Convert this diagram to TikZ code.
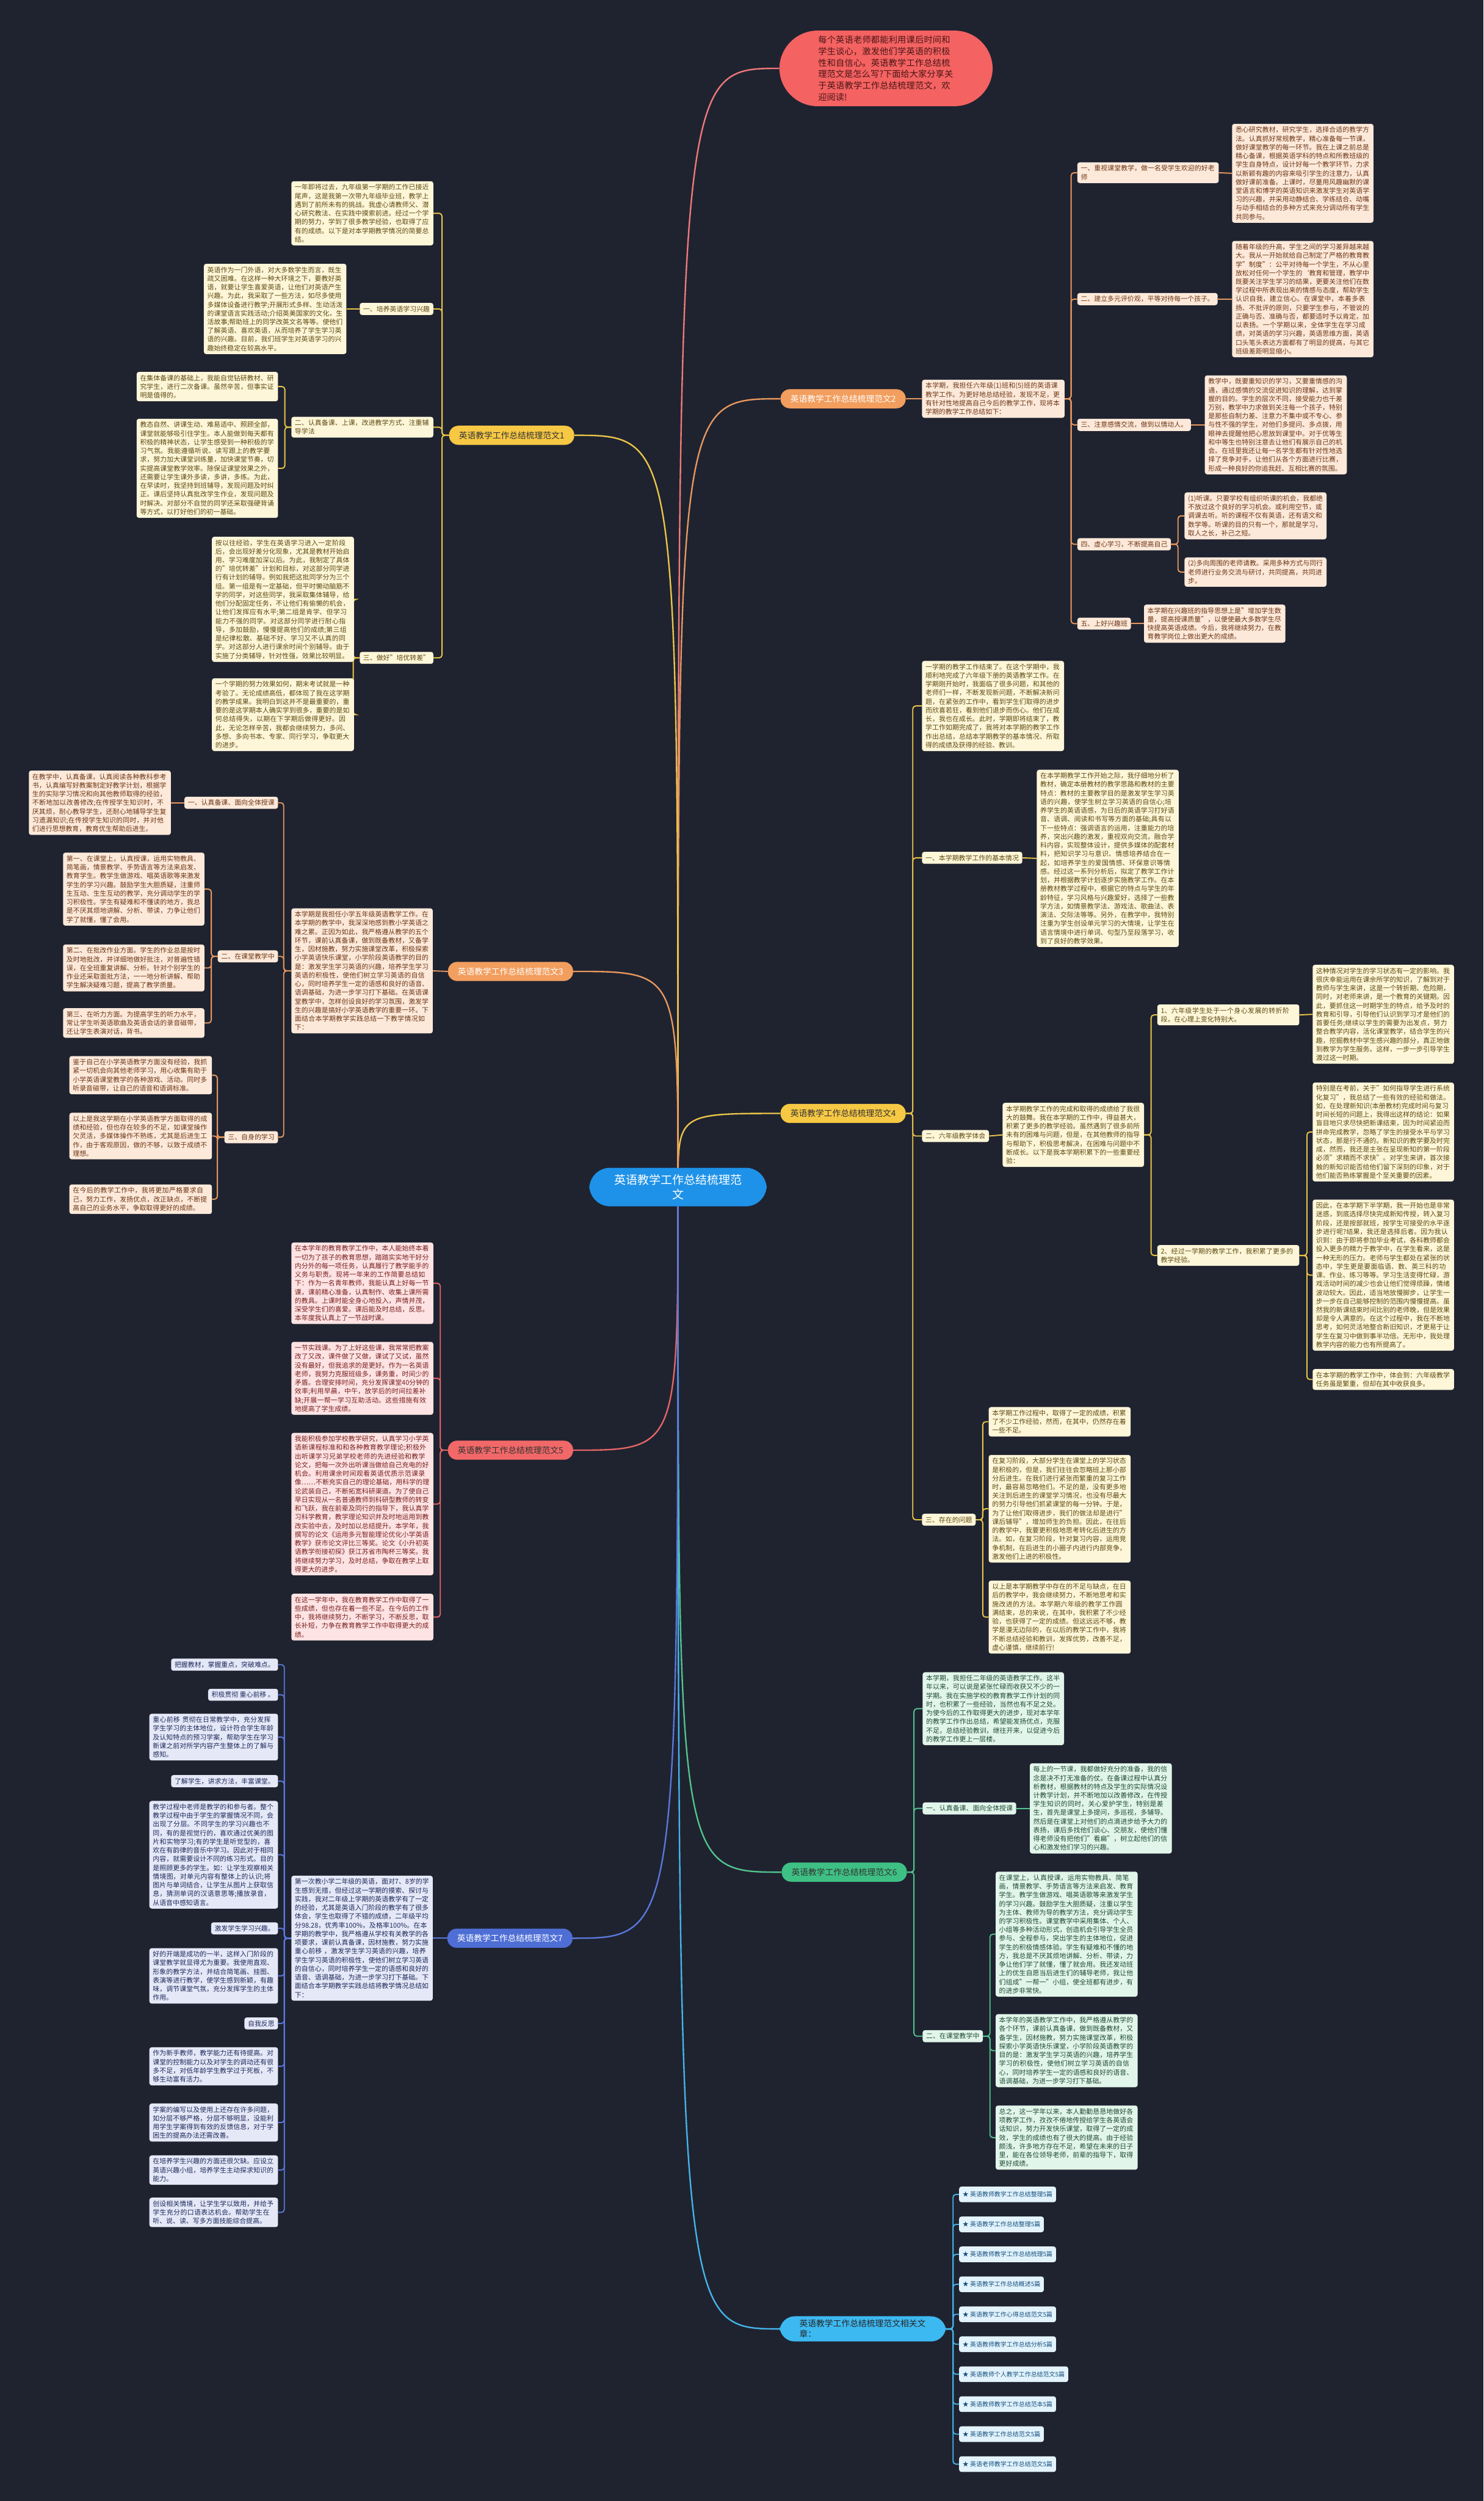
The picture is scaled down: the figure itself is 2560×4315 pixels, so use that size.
\documentclass[tikz,border=0pt]{standalone}
\usepackage{fontspec}
\setmainfont{Noto Sans CJK SC}
\usetikzlibrary{backgrounds}
\XeTeXlinebreaklocale "zh"
\XeTeXlinebreakskip=0pt plus 1pt

\definecolor{bgc}{HTML}{1F2330}
\definecolor{rootc}{HTML}{1E92E8}
\definecolor{notec}{HTML}{F46262}
\definecolor{notetx}{HTML}{4A1515}
\definecolor{noteln}{HTML}{F07A7A}
\definecolor{ypill}{HTML}{F7C844}
\definecolor{yfill}{HTML}{FEF6D8}
\definecolor{ytext}{HTML}{5C4A12}
\definecolor{yline}{HTML}{EBC548}
\definecolor{opill}{HTML}{F29E5E}
\definecolor{ofill}{HTML}{FDE9DA}
\definecolor{otext}{HTML}{6B3615}
\definecolor{oline}{HTML}{E8985E}
\definecolor{rpill}{HTML}{F26868}
\definecolor{rfill}{HTML}{FDE3E3}
\definecolor{rtext}{HTML}{7A1E1E}
\definecolor{rline}{HTML}{E56565}
\definecolor{gpill}{HTML}{3EC084}
\definecolor{gfill}{HTML}{E2F5EA}
\definecolor{gtext}{HTML}{1E4A34}
\definecolor{gline}{HTML}{52C48D}
\definecolor{bpill}{HTML}{4E6ED6}
\definecolor{bfill}{HTML}{E5E8F7}
\definecolor{btext}{HTML}{1D2A5A}
\definecolor{bline}{HTML}{5A78DC}
\definecolor{lpill}{HTML}{3DB9F2}
\definecolor{lfill}{HTML}{E3F3FC}
\definecolor{ltext}{HTML}{16507E}
\definecolor{lline}{HTML}{45B4EA}

\newcommand\boxfont{\fontsize{11.5}{15}\selectfont}
\newcommand\pillfont{\fontsize{14.5}{18}\selectfont}
\newcommand\notefont{\fontsize{15}{19.7}\selectfont}
\newcommand\rootfont{\fontsize{20}{26}\selectfont}
\newcommand\itemfont{\fontsize{10.5}{13}\selectfont}

\tikzset{
  box/.style={rounded corners=4pt, inner xsep=6pt, inner ysep=5pt, align=left, font=\boxfont},
  ybox/.style={box, fill=yfill, text=ytext},
  obox/.style={box, fill=ofill, text=otext},
  rbox/.style={box, fill=rfill, text=rtext},
  gbox/.style={box, fill=gfill, text=gtext},
  bbox/.style={box, fill=bfill, text=btext},
  lbox/.style={box, fill=lfill, text=ltext, font=\itemfont, minimum height=27pt, inner ysep=3pt},
  pill/.style={rounded corners=16pt, minimum height=33pt, inner xsep=17pt, inner ysep=4pt, font=\pillfont},
  trunk/.style={line width=2.5pt},
  link/.style={line width=2pt, rounded corners=5pt},
}

\begin{document}
\begin{tikzpicture}[x=1pt,y=-1pt]
\useasboundingbox (0,0) rectangle (2560,4315);

\node[fill=rootc, text=white, rounded corners=36pt, font=\rootfont, align=center, text width=222pt, inner xsep=42pt, inner ysep=11pt] (root) at (1170,2048) {英语教学工作总结梳理范\\文};

\node[fill=notec, text=notetx, rounded corners=66pt, font=\notefont, align=left, text width=234pt, inner xsep=67pt, inner ysep=9pt] (note) at (1529,118) {每个英语老师都能利用课后时间和学生谈心，激发他们学英语的积极性和自信心。英语教学工作总结梳理范文是怎么写?下面给大家分享关于英语教学工作总结梳理范文，欢迎阅读!};

% 范文1
\node[pill, fill=ypill, text=black!80] (p1) at (883,751) {英语教学工作总结梳理范文1};
\node[ybox, text width=233pt, anchor=east] (p1a) at (748,368) {一年即将过去，九年级第一学期的工作已接近尾声，这是我第一次带九年级毕业班，教学上遇到了前所未有的挑战。我虚心请教师父、潜心研究教法、在实践中摸索前进。经过一个学期的努力，学到了很多教学经验，也取得了应有的成绩。以下是对本学期教学情况的简要总结。};
\node[ybox, anchor=east] (p1b) at (748,533) {一、培养英语学习兴趣};
\node[ybox, text width=234pt, anchor=east] (p1ba) at (598,533) {英语作为一门外语，对大多数学生而言，既生疏又困难。在这样一种大环境之下，要教好英语，就要让学生喜爱英语，让他们对英语产生兴趣。为此，我采取了一些方法，如尽多使用多媒体设备进行教学;开展形式多样、生动活泼的课堂语言实践活动;介绍英美国家的文化，生活故事;帮助班上的同学改英文名等等。使他们了解英语、喜欢英语，从而培养了学生学习英语的兴趣。目前，我们班学生对英语学习的兴趣始终稳定在较高水平。};
\node[ybox, text width=233pt, anchor=east] (p1c) at (748,737) {二、认真备课、上课，改进教学方式、注重辅导学法};
\node[ybox, text width=232pt, anchor=east] (p1ca) at (480,667) {在集体备课的基础上，我能自觉钻研教材、研究学生，进行二次备课。虽然辛苦，但事实证明是值得的。};
\node[ybox, text width=232pt, anchor=east] (p1cb) at (480,808) {教态自然、讲课生动、难易适中、照顾全部，课堂就能够吸引住学生。本人能做到每天都有积极的精神状态，让学生感受到一种积极的学习气氛。我能遵循听说、读写跟上的教学要求，努力加大课堂训练量，加快课堂节奏，切实提高课堂教学效率。除保证课堂效果之外，还需要让学生课外多读，多讲，多练。为此，在早读时，我坚持到班辅导，发现问题及时纠正。课后坚持认真批改学生作业，发现问题及时解决。对部分不自觉的同学还采取强硬背诵等方式，以打好他们的初一基础。};
\node[ybox, anchor=east] (p1d) at (748,1135) {三、做好"培优转差"};
\node[ybox, text width=233pt, anchor=east] (p1da) at (611,1034) {按以往经验，学生在英语学习进入一定阶段后，会出现好差分化现象，尤其是教材开始启用、学习难度加深以后。为此，我制定了具体的"培优转差"计划和目标，对这部分同学进行有计划的辅导。例如我把这批同学分为三个组。第一组是有一定基础，但平时懒动脑筋不学的同学，对这些同学，我采取集体辅导，给他们分配固定任务，不让他们有偷懒的机会，让他们发挥应有水平;第二组是肯学、但学习能力不强的同学。对这部分同学进行耐心指导，多加鼓励，慢慢提高他们的成绩;第三组是纪律松散、基础不好、学习又不认真的同学。对这部分人进行课余时间个别辅导。由于实施了分类辅导，针对性强，效果比较明显。};
\node[ybox, text width=233pt, anchor=east] (p1db) at (611,1233) {一个学期的努力效果如何，期末考试就是一种考验了。无论成绩高低，都体现了我在这学期的教学成果。我明白到这并不是最重要的，重要的是这学期本人确实学到很多，重要的是如何总结得失，以期在下学期后做得更好。因此，无论怎样辛苦，我都会继续努力，多问、多想、多向书本、专家、同行学习，争取更大的进步。};

% 范文2
\node[pill, fill=opill, text=white] (p2) at (1455,688) {英语教学工作总结梳理范文2};
\node[obox, text width=234pt, anchor=west] (p2i) at (1591,688) {本学期，我担任六年级(1)班和(5)班的英语课教学工作。为更好地总结经验，发现不足，更有针对性地提高自己今后的教学工作，现将本学期的教学工作总结如下：};
\node[obox, text width=232pt, anchor=west] (p2a) at (1859,298) {一、重视课堂教学，做一名受学生欢迎的好老师};
\node[obox, text width=232pt, anchor=west] (p2aa) at (2126,299) {悉心研究教材，研究学生，选择合适的教学方法。认真抓好常规教学，精心准备每一节课，做好课堂教学的每一环节。我在上课之前总是精心备课，根据英语学科的特点和所教班级的学生自身特点，设计好每一个教学环节，力求以新颖有趣的内容来吸引学生的注意力，认真做好课前准备。上课时，尽量用风趣幽默的课堂语言和博学的英语知识来激发学生对英语学习的兴趣，并采用动静结合、学练结合、动嘴与动手相结合的多种方式来充分调动所有学生共同参与。};
\node[obox, anchor=west] (p2b) at (1859,516) {二、建立多元评价观，平等对待每一个孩子。};
\node[obox, text width=232pt, anchor=west] (p2ba) at (2126,516) {随着年级的升高，学生之间的学习差异越来越大。我从一开始就给自己制定了严格的教育教学"制度"：公平对待每一个学生，不从心里放松对任何一个学生的{\char"60}教育和管理，教学中既要关注学生学习的结果，更要关注他们在数学过程中所表现出来的情感与态度，帮助学生认识自我，建立信心。在课堂中，本着多表扬、不批评的原则，只要学生参与，不管说的正确与否、准确与否，都要适时予以肯定，加以表扬。一个学期以来，全体学生在学习成绩，对英语的学习兴趣，英语思维方面，英语口头笔头表达方面都有了明显的提高，与其它班级差距明显缩小。};
\node[obox, anchor=west] (p2c) at (1859,733) {三、注意感情交流，做到以情动人。};
\node[obox, text width=233pt, anchor=west] (p2ca) at (2079,733) {教学中，既要重知识的学习，又要重情感的沟通，通过感情的交流促进知识的理解，达到掌握的目的。学生的层次不同，接受能力也千差万别，教学中力求做到关注每一个孩子，特别是那些自制力差、注意力不集中或不专心、参与性不强的学生，对他们多提问、多点拨，用眼神去提醒他把心思放到课堂中。对于优等生和中等生也特别注意去让他们有展示自己的机会。在班里我还让每一名学生都有针对性地选择了竞争对手，让他们从各个方面进行比赛，形成一种良好的你追我赶、互相比赛的氛围。};
\node[obox, anchor=west] (p2d) at (1859,939) {四、虚心学习，不断提高自己};
\node[obox, text width=233pt, anchor=west] (p2da) at (2044,890) {(1)听课。只要学校有组织听课的机会，我都绝不放过这个良好的学习机会。或利用空节，或调课去听。听的课程不仅有英语，还有语文和数学等。听课的目的只有一个，那就是学习，取人之长，补己之短。};
\node[obox, text width=233pt, anchor=west] (p2db) at (2044,987) {(2)多向周围的老师请教。采用多种方式与同行老师进行业务交流与研讨，共同提高，共同进步。};
\node[obox, anchor=west] (p2e) at (1859,1076) {五、上好兴趣班};
\node[obox, text width=232pt, anchor=west] (p2ea) at (1974,1076) {本学期在兴趣班的指导思想上是"增加学生数量，提高授课质量"，以便使最大多数学生尽快提高英语成绩。今后，我将继续努力，在教育教学岗位上做出更大的成绩。};

% 范文3
\node[pill, fill=opill, text=white] (p3) at (881,1676) {英语教学工作总结梳理范文3};
\node[obox, text width=232pt, anchor=east] (p3i) at (747,1675) {本学期是我担任小学五年级英语教学工作。在本学期的教学中，我深深地感到教小学英语之难之累。正因为如此，我严格遵从教学的五个环节，课前认真备课，做到既备教材，又备学生，因材施教，努力实施课堂改革，积极探索小学英语快乐课堂，小学阶段英语教学的目的是：激发学生学习英语的兴趣，培养学生学习英语的积极性，使他们树立学习英语的自信心，同时培养学生一定的语感和良好的语音、语调基础，为进一步学习打下基础。在英语课堂教学中，怎样创设良好的学习氛围，激发学生的兴趣是搞好小学英语教学的重要一环。下面结合本学期教学实践总结一下教学情况如下：};
\node[obox, anchor=east] (p3a) at (480,1385) {一、认真备课、面向全体授课};
\node[obox, text width=233pt, anchor=east] (p3aa) at (295,1385) {在教学中，认真备课，认真阅读各种教科参考书，认真编写好教案制定好教学计划，根据学生的实际学习情况和向其他教师取得的经验，不断地加以改善修改;在传授学生知识时，不厌其烦，耐心教导学生，还耐心地辅导学生复习遗漏知识;在传授学生知识的同时，并对他们进行思想教育，教育优生帮助后进生。};
\node[obox, anchor=east] (p3b) at (480,1650) {二、在课堂教学中};
\node[obox, text width=232pt, anchor=east] (p3ba) at (353,1534) {第一、在课堂上，认真授课，运用实物教具、简笔画，情景教学、手势语言等方法来启发、教育学生。教学生做游戏、唱英语歌等来激发学生的学习兴趣。鼓励学生大胆质疑，注重师生互动、生生互动的教学，充分调动学生的学习积极性。学生有疑难和不懂读的地方，我总是不厌其烦地讲解、分析、带读，力争让他们学了就懂，懂了会用。};
\node[obox, text width=232pt, anchor=east] (p3bb) at (353,1670) {第二、在批改作业方面。学生的作业总是按时及时地批改，并详细地做好批注，对普遍性错误，在全班重复讲解、分析。针对个别学生的作业还采取面批方法，一一地分析讲解、帮助学生解决疑难习题，提高了教学质量。};
\node[obox, text width=232pt, anchor=east] (p3bc) at (353,1765) {第三、在听力方面。为提高学生的听力水平，常让学生听英语歌曲及英语会话的录音磁带，还让学生表演对话，背书。};
\node[obox, anchor=east] (p3c) at (480,1962) {三、自身的学习};
\node[obox, text width=234pt, anchor=east] (p3ca) at (366,1855) {鉴于自己在小学英语教学方面没有经验，我抓紧一切机会向其他老师学习，用心收集有助于小学英语课堂教学的各种游戏、活动。同时多听录音磁带，让自己的语音和语调标准。};
\node[obox, text width=234pt, anchor=east] (p3cb) at (366,1960) {以上是我这学期在小学英语教学方面取得的成绩和经验，但也存在较多的不足，如课堂操作欠灵活，多媒体操作不熟练，尤其是后进生工作，由于客观原因，做的不够，以致于成绩不理想。};
\node[obox, text width=234pt, anchor=east] (p3cc) at (366,2069) {在今后的教学工作中，我将更加严格要求自己，努力工作，发扬优点，改正缺点，不断提高自己的业务水平，争取取得更好的成绩。};

% 范文4
\node[pill, fill=ypill, text=black!80] (p4) at (1455,1921) {英语教学工作总结梳理范文4};
\node[ybox, text width=233pt, anchor=west] (p4i) at (1591,1218) {一学期的教学工作结束了。在这个学期中，我顺利地完成了六年级下册的英语教学工作。在学期刚开始时，我面临了很多问题，和其他的老师们一样，不断发现新问题，不断解决新问题，在紧张的工作中，看到学生们取得的进步而欣喜若狂，看到他们退步而伤心。他们在成长，我也在成长。此时，学期即将结束了，教学工作如期完成了，我将对本学期的教学工作作出总结，总结本学期教学的基本情况、所取得的成绩及获得的经验、教训。};
\node[ybox, anchor=west] (p4a) at (1591,1480) {一、本学期教学工作的基本情况};
\node[ybox, text width=233pt, anchor=west] (p4aa) at (1789,1481) {在本学期教学工作开始之际，我仔细地分析了教材，确定本册教材的教学思路和教材的主要特点：教材的主要教学目的是激发学生学习英语的兴趣，使学生树立学习英语的自信心;培养学生的英语语感，为日后的英语学习打好语音、语调、阅读和书写等方面的基础;具有以下一些特点：强调语言的运用，注重能力的培养，突出兴趣的激发，重视双向交流，融合学科内容，实现整体设计，提供多媒体的配套材料，把知识学习与意识、情感培养结合在一起，如培养学生的爱国情感、环保意识等情感。经过这一系列分析后，拟定了教学工作计划，并根据教学计划逐步实施教学工作。在本册教材教学过程中，根据它的特点与学生的年龄特征，学习风格与兴趣爱好，选择了一些教学方法，如情景教学法、游戏法、歌曲法、表演法、交际法等等。另外，在教学中，我特别注重为学生创设单元学习的大情境，让学生在语言情境中进行单词、句型乃至段落学习，收到了良好的教学效果。};
\node[ybox, anchor=west] (p4b) at (1591,1960) {二、六年级教学体会};
\node[ybox, text width=232pt, anchor=west] (p4bi) at (1730,1958) {本学期教学工作的完成和取得的成绩给了我很大的鼓舞。我在本学期的工作中，得益甚大，积累了更多的教学经验。虽然遇到了很多前所未有的困难与问题，但是，在其他教师的指导与帮助下，积极思考解决，在困难与问题中不断成长。以下是我本学期积累下的一些重要经验：};
\node[ybox, text width=233pt, anchor=west] (p4b1) at (1997,1751) {1、六年级学生处于一个身心发展的转折阶段，在心理上变化特别大。};
\node[ybox, text width=232pt, anchor=west] (p4b1a) at (2265,1750) {这种情况对学生的学习状态有一定的影响。我很庆幸能运用在课余所学的知识，了解到对于教师与学生来讲，这是一个转折期、危险期，同时，对老师来讲，是一个教育的关键期。因此，要抓住这一时期学生的特点，给予及时的教育和引导，引导他们认识到学习才是他们的首要任务;继续以学生的需要为出发点，努力整合教学内容，活化课堂教学，结合学生的兴趣，挖掘教材中学生感兴趣的部分，真正地做到教学为学生服务。这样，一步一步引导学生渡过这一时期。};
\node[ybox, text width=233pt, anchor=west] (p4b2) at (1997,2166) {2、经过一学期的教学工作，我积累了更多的教学经验。};
\node[ybox, text width=232pt, anchor=west] (p4b2a) at (2265,1953) {特别是在考前，关于"如何指导学生进行系统化复习"，我总结了一些有效的经验和做法。如，在处理新知识(本册教材)完成时间与复习时间长短的问题上，我得出这样的结论：如果盲目地只求尽快把新课结束，因为时间紧迫而拼命完成教学，忽略了学生的接受水平与学习状态，那是行不通的。新知识的教学要及时完成，然而，我还是主张在呈现新知的第一阶段必须"求精而不求快"。对学生来讲，首次接触的新知识能否给他们留下深刻的印象，对于他们能否熟练掌握是个至关重要的因素。};
\node[ybox, text width=232pt, anchor=west] (p4b2b) at (2265,2200) {因此，在本学期下半学期，我一开始也是非常迷惑，到底选择尽快完成新知传授，转入复习阶段，还是按部就班，按学生可接受的水平逐步进行呢?结果，我还是选择后者。因为我认识到：由于即将参加毕业考试，各科教师都会投入更多的精力于教学中，在学生看来，这是一种无形的压力。老师与学生都处在紧张的状态中，学生更是要面临语、数、英三科的功课、作业、练习等等。学习生活变得忙碌，游戏活动时间的减少也会让他们觉得烦躁，情绪波动较大。因此，适当地放慢脚步，让学生一步一步在自己能够控制的范围内慢慢提高。虽然我的新课结束时间比别的老师晚，但是效果却是令人满意的。在这个过程中，我在不断地思考，如何灵活地整合新旧知识，才更易于让学生在复习中做到事半功倍。无形中，我处理教学内容的能力也有所提高了。};
\node[ybox, text width=232pt, anchor=west] (p4b2c) at (2265,2380) {在本学期的教学工作中，体会到：六年级教学任务虽是繁重，但却在其中收获良多。};
\node[ybox, anchor=west] (p4c) at (1591,2622) {三、存在的问题};
\node[ybox, text width=233pt, anchor=west] (p4ca) at (1706,2453) {本学期工作过程中，取得了一定的成绩，积累了不少工作经验，然而，在其中，仍然存在着一些不足。};
\node[ybox, text width=233pt, anchor=west] (p4cb) at (1706,2603) {在复习阶段，大部分学生在课堂上的学习状态是积极的，但是，我们往往会忽略班上那小部分后进生。在我们进行紧张而繁重的复习工作时，最容易忽略他们。不足的是，没有更多地关注到后进生的课堂学习情况，也没有尽最大的努力引导他们抓紧课堂的每一分钟。于是，为了让他们取得进步，我们的做法却是进行"课后辅导"，增加师生的负担。因此，在往后的教学中，我要更积极地思考转化后进生的方法。如，在复习阶段，针对复习内容，运用竞争机制，在后进生的小圈子内进行内部竞争，激发他们上进的积极性。};
\node[ybox, text width=233pt, anchor=west] (p4cc) at (1706,2790) {以上是本学期教学中存在的不足与缺点，在日后的教学中，我会继续努力，不断地思考和实施改进的方法。本学期六年级的教学工作圆满结束，总的来说，在其中，我积累了不少经验，也获得了一定的成绩。但这远远不够，教学是漫无边际的，在以后的教学工作中，我将不断总结经验和教训，发挥优势，改善不足，虚心谨慎，继续前行!};

% 范文5
\node[pill, fill=rpill, text=black!80] (p5) at (881,2502) {英语教学工作总结梳理范文5};
\node[rbox, text width=233pt, anchor=east] (p5a) at (748,2214) {在本学年的教育教学工作中，本人能始终本着一切为了孩子的教育思想，踏踏实实地干好分内分外的每一项任务，认真履行了教学能手的义务与职责。现将一年来的工作简要总结如下：作为一名青年教师，我能认真上好每一节课，课前精心准备，认真制作、收集上课所需的教具。上课时能全身心地投入，声情并茂，深受学生们的喜爱。课后能及时总结，反思。本年度我认真上了一节战时课。};
\node[rbox, text width=233pt, anchor=east] (p5b) at (748,2378) {一节实践课。为了上好这些课，我常常把教案改了又改，课件做了又做，课试了又试，虽然没有最好，但我追求的是更好。作为一名英语老师，我努力克服班级多，课务重，时间少的矛盾。合理安排时间，充分发挥课堂40分钟的效率;利用早晨，中午，放学后的时间拉差补缺;开展一帮一学习互助活动。这些措施有效地提高了学生成绩。};
\node[rbox, text width=233pt, anchor=east] (p5c) at (748,2595) {我能积极参加学校教学研究，认真学习小学英语新课程标准和和各种教育教学理论;积极外出听课学习兄弟学校老师的先进经验和教学论文，把每一次外出听课当做给自己充电的好机会。利用课余时间观看英语优质示范课录像……不断充实自己的理论基础，用科学的理论武装自己，不断拓宽科研渠道。为了使自己早日实现从一名普通教师到科研型教师的转变和飞跃，我在前辈及同行的指导下，我认真学习科学教育，教学理论知识并及时地运用到教改实验中去，及时加以总结提升。本学年，我撰写的论文《运用多元智能理论优化小学英语教学》获市论文评比三等奖。论文《小升初英语教学衔接初探》获江苏省市陶杯三等奖。我将继续努力学习，及时总结，争取在教学上取得更大的进步。};
\node[rbox, text width=233pt, anchor=east] (p5d) at (748,2790) {在这一学年中，我在教育教学工作中取得了一些成绩，但也存在着一些不足。在今后的工作中，我将继续努力，不断学习，不断反思，取长补短，力争在教育教学工作中取得更大的成绩。};

% 范文6
\node[pill, fill=gpill, text=black!80] (p6) at (1457,3230) {英语教学工作总结梳理范文6};
\node[gbox, text width=232pt, anchor=west] (p6i) at (1592,2948) {本学期，我担任二年级的英语教学工作。这半年以来，可以说是紧张忙碌而收获又不少的一学期。我在实施学校的教育教学工作计划的同时，也积累了一些经验，当然也有不足之处。为使今后的工作取得更大的进步，现对本学年的教学工作作出总结，希望能发扬优点，克服不足，总结经验教训，继往开来，以促进今后的教学工作更上一层楼。};
\node[gbox, anchor=west] (p6a) at (1592,3120) {一、认真备课、面向全体授课};
\node[gbox, text width=233pt, anchor=west] (p6aa) at (1777,3120) {每上的一节课，我都做好充分的准备，我的信念是决不打无准备的仗。在备课过程中认真分析教材，根据教材的特点及学生的实际情况设计教学计划，并不断地加以改善修改，在传授学生知识的同时，关心爱护学生，特别是差生，首先是课堂上多提问，多巡视，多辅导。然后是在课堂上对他们的点滴进步给予大力的表扬，课后多找他们谈心、交朋友，使他们懂得老师没有把他们"看扁"，树立起他们的信心和激发他们学习的兴趣。};
\node[gbox, anchor=west] (p6b) at (1592,3513) {二、在课堂教学中};
\node[gbox, text width=233pt, anchor=west] (p6ba) at (1718,3337) {在课堂上，认真授课，运用实物教具、简笔画，情景教学、手势语言等方法来启发、教育学生。教学生做游戏、唱英语歌等来激发学生的学习兴趣。鼓励学生大胆质疑，注重以学生为主体、教师为导的教学方法，充分调动学生的学习积极性。课堂教学中采用集体、个人、小组等多种活动形式，创造机会引导学生全员参与、全程参与，突出学生的主体地位，促进学生的积极情感体验。学生有疑难和不懂的地方，我总是不厌其烦地讲解、分析、带读，力争让他们学了就懂，懂了就会用。我还发动班上的优生自愿当后进生们的辅导老师，我让他们组成"一帮一"小组，使全班都有进步，有的进步非常快。};
\node[gbox, text width=233pt, anchor=west] (p6bb) at (1718,3538) {本学年的英语教学工作中，我严格遵从教学的各个环节，课前认真备课，做到既备教材，又备学生，因材施教，努力实施课堂改革，积极探索小学英语快乐课堂，小学阶段英语教学的目的是：激发学生学习英语的兴趣，培养学生学习的积极性，使他们树立学习英语的自信心，同时培养学生一定的语感和良好的语音、语调基础，为进一步学习打下基础。};
\node[gbox, text width=233pt, anchor=west] (p6bc) at (1718,3688) {总之，这一学年以来，本人勤勤恳恳地做好各项教学工作，孜孜不倦地传授给学生各英语会话知识，努力开发快乐课堂，取得了一定的成效，学生的成绩也有了很大的提高。由于经验颇浅，许多地方存在不足，希望在未来的日子里，能在各位领导老师，前辈的指导下，取得更好成绩。};

% 范文7
\node[pill, fill=bpill, text=white] (p7) at (880,3344) {英语教学工作总结梳理范文7};
\node[bbox, text width=232pt, anchor=east] (p7i) at (747,3344) {第一次教小学二年级的英语，面对7、8岁的学生感到无措，但经过这一学期的摸索、探讨与实践，我对二年级上学期的英语教学有了一定的经验，尤其是英语入门阶段的教学有了很多体会，学生也取得了不错的成绩，二年级平均分98.28，优秀率100\%，及格率100\%。在本学期的教学中，我严格遵从学校有关教学的各项要求，课前认真备课，因材施教，努力实施 重心前移 ，激发学生学习英语的兴趣，培养学生学习英语的积极性，使他们树立学习英语的自信心，同时培养学生一定的语感和良好的语音、语调基础，为进一步学习打下基础。下面结合本学期教学实践总结将教学情况总结如下：};
\node[bbox, anchor=east] (k1) at (480,2872) {把握教材，掌握重点，突破难点。};
\node[bbox, anchor=east] (k2) at (480,2924) {积极贯彻 重心前移 。};
\node[bbox, text width=210pt, anchor=east] (k3) at (480,2997) {重心前移 贯彻在日常教学中，充分发挥学生学习的主体地位，设计符合学生年龄及认知特点的预习学案，帮助学生在学习新课之前对所学内容产生整体上的了解与感知。};
\node[bbox, anchor=east] (k4) at (480,3073) {了解学生，讲求方法，丰富课堂。};
\node[bbox, text width=210pt, anchor=east] (k5) at (480,3200) {教学过程中老师是教学的和参与者。整个教学过程中由于学生的掌握情况不同，会出现了分层。不同学生的学习兴趣也不同，有的是视觉行的，喜欢通过优美的图片和实物学习;有的学生是听觉型的，喜欢在有韵律的音乐中学习。因此对于相同内容，就需要设计不同的练习形式。目的是照顾更多的学生。如：让学生观察相关情境图，对单元内容有整体上的认识;将图片与单词结合，让学生从图片上获取信息，猜测单词的汉语意思等;播放录音，从语音中感知语言。};
\node[bbox, anchor=east] (k6) at (480,3327) {激发学生学习兴趣。};
\node[bbox, text width=210pt, anchor=east] (k7) at (480,3409) {好的开端是成功的一半，这样入门阶段的课堂教学就显得尤为重要。我使用直观、形象的教学方法，并结合简笔画、挂图、表演等进行教学，使学生感到新颖，有趣味，调节课堂气氛，充分发挥学生的主体作用。};
\node[bbox, anchor=east] (k8) at (480,3491) {自我反思};
\node[bbox, text width=210pt, anchor=east] (k9) at (480,3565) {作为新手教师，教学能力还有待提高。对课堂的控制能力以及对学生的调动还有很多不足，对低年龄学生教学过于死板，不够生动富有活力。};
\node[bbox, text width=210pt, anchor=east] (k10) at (480,3662) {学案的编写以及使用上还存在许多问题，如分层不够严格，分层不够明显，没能利用学生学案得到有效的反馈信息，对于学困生的提高办法还需改善。};
\node[bbox, text width=210pt, anchor=east] (k11) at (480,3744) {在培养学生兴趣的方面还很欠缺。应设立英语兴趣小组，培养学生主动探求知识的能力。};
\node[bbox, text width=210pt, anchor=east] (k12) at (480,3817) {创设相关情境，让学生学以致用，并给予学生充分的口语表达机会。帮助学生在听、说、读、写多方面技能综合提高。};

% 相关文章
\node[pill, fill=lpill, text=black!85, align=left, text width=219pt, inner xsep=34pt, inner ysep=6pt, rounded corners=26pt] (p8) at (1489,4018) {英语教学工作总结梳理范文相关文章：};
\foreach \t [count=\i] in {英语教师教学工作总结整理5篇, 英语教学工作总结整理5篇, 英语教师教学工作总结梳理5篇, 英语教学工作总结概述5篇, 英语教学工作心得总结范文5篇, 英语教师教学工作总结分析5篇, 英语教师个人教学工作总结范文5篇, 英语教师教学工作总结范本5篇, 英语教学工作总结范文5篇, 英语老师教学工作总结范文5篇}
  \node[lbox, anchor=west] (r\i) at (1655,3786+51.7*\i-51.7) {★ \t};

\begin{scope}[on background layer]
\fill[bgc] (0,0) rectangle (2560,4315);
\draw[trunk, draw=noteln] (root.center) .. controls (root.center |- note.west) .. (note.west);
\draw[trunk, draw=oline] (root.center) .. controls (root.center |- p2.west) .. (p2.west);
\draw[trunk, draw=yline] (root.center) .. controls (root.center |- p4.west) .. (p4.west);
\draw[trunk, draw=gline] (root.center) .. controls (root.center |- p6.west) .. (p6.west);
\draw[trunk, draw=lline] (root.center) .. controls (root.center |- p8.west) .. (p8.west);
\draw[trunk, draw=yline] (root.center) .. controls (root.center |- p1.east) .. (p1.east);
\draw[trunk, draw=oline] (root.center) .. controls (root.center |- p3.east) .. (p3.east);
\draw[trunk, draw=rline] (root.center) .. controls (root.center |- p5.east) .. (p5.east);
\draw[trunk, draw=bline] (root.center) .. controls (root.center |- p7.east) .. (p7.east);

\foreach \c in {p1a,p1b,p1c,p1d}
  \draw[link, draw=yline] (p1.west) -- ++(-12,0) |- (\c.east);
\draw[link, draw=yline] (p1b.west) -- (p1ba.east);
\foreach \c in {p1ca,p1cb}
  \draw[link, draw=yline] (p1c.west) -- ++(-11,0) |- (\c.east);
\foreach \c in {p1da,p1db}
  \draw[link, draw=yline] (p1d.west) -- ++(-11,0) |- (\c.east);

\draw[link, draw=oline] (p2.east) -- (p2i.west);
\foreach \c in {p2a,p2b,p2c,p2d,p2e}
  \draw[link, draw=oline] (p2i.east) -- ++(11,0) |- (\c.west);
\draw[link, draw=oline] (p2a.east) -- (p2aa.west);
\draw[link, draw=oline] (p2b.east) -- (p2ba.west);
\draw[link, draw=oline] (p2c.east) -- (p2ca.west);
\foreach \c in {p2da,p2db}
  \draw[link, draw=oline] (p2d.east) -- ++(12,0) |- (\c.west);
\draw[link, draw=oline] (p2e.east) -- (p2ea.west);

\draw[link, draw=oline] (p3.west) -- (p3i.east);
\foreach \c in {p3a,p3b,p3c}
  \draw[link, draw=oline] (p3i.west) -- ++(-13,0) |- (\c.east);
\draw[link, draw=oline] (p3a.west) -- (p3aa.east);
\foreach \c in {p3ba,p3bb,p3bc}
  \draw[link, draw=oline] (p3b.west) -- ++(-11,0) |- (\c.east);
\foreach \c in {p3ca,p3cb,p3cc}
  \draw[link, draw=oline] (p3c.west) -- ++(-12,0) |- (\c.east);

\foreach \c in {p4i,p4a,p4b,p4c}
  \draw[link, draw=yline] (p4.east) -- ++(12,0) |- (\c.west);
\draw[link, draw=yline] (p4a.east) -- (p4aa.west);
\draw[link, draw=yline] (p4b.east) -- (p4bi.west);
\foreach \c in {p4b1,p4b2}
  \draw[link, draw=yline] (p4bi.east) -- ++(12,0) |- (\c.west);
\draw[link, draw=yline] (p4b1.east) -- (p4b1a.west);
\foreach \c in {p4b2a,p4b2b,p4b2c}
  \draw[link, draw=yline] (p4b2.east) -- ++(13,0) |- (\c.west);
\foreach \c in {p4ca,p4cb,p4cc}
  \draw[link, draw=yline] (p4c.east) -- ++(12,0) |- (\c.west);

\foreach \c in {p5a,p5b,p5c,p5d}
  \draw[link, draw=rline] (p5.west) -- ++(-13,0) |- (\c.east);

\foreach \c in {p6i,p6a,p6b}
  \draw[link, draw=gline] (p6.east) -- ++(12,0) |- (\c.west);
\draw[link, draw=gline] (p6a.east) -- (p6aa.west);
\foreach \c in {p6ba,p6bb,p6bc}
  \draw[link, draw=gline] (p6b.east) -- ++(12,0) |- (\c.west);

\draw[link, draw=bline] (p7.west) -- (p7i.east);
\foreach \i in {1,...,12}
  \draw[link, draw=bline] (p7i.west) -- ++(-12,0) |- (k\i.east);

\foreach \i in {1,...,10}
  \draw[link, draw=lline] (p8.east) -- ++(12,0) |- (r\i.west);
\end{scope}
\end{tikzpicture}
\end{document}
